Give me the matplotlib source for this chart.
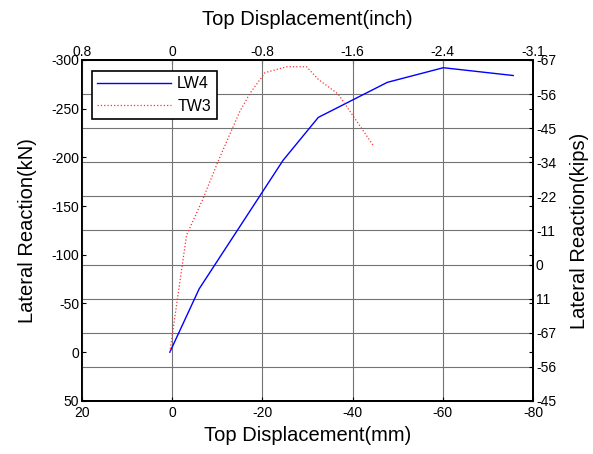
import matplotlib
matplotlib.use('Agg')
import matplotlib.pyplot as plt

plt.rcParams['font.family'] = ['Liberation Sans', 'DejaVu Sans']
plt.rcParams['axes.unicode_minus'] = False

# data (mm, kN)
lw4_disp = [0.5, -6.0, -24.6, -32.4, -47.7, -60.1, -75.6]
lw4_force = [0, -65, -197, -241, -277, -292, -284]
tw3_disp = [0.5, -3.2, -6.9, -10.2, -13.2, -15.0, -17.3, -20.6, -25.4, -29.8, -32.4, -36.8, -44.6]
tw3_force = [0, -120, -158, -196, -228, -247, -266, -287, -293, -293, -280, -265, -212]

mm_ticks = [20, 0, -20, -40, -60, -80]
inch_labels = ['0.8', '0', '-0.8', '-1.6', '-2.4', '-3.1']
kn_ticks = [-300, -250, -200, -150, -100, -50, 0, 50]
kips_labels = ['-67', '-56', '-45', '-34', '-22', '-11', '0', '11', '-67', '-56', '-45']  # top to bottom

fig = plt.figure(figsize=(5.93, 4.54), dpi=100)
ax = fig.add_axes([0.138, 0.117, 0.761, 0.751])

ax2 = ax.twinx()
ax3 = ax.twiny()
ax.set_zorder(5)
ax.patch.set_visible(False)

ax.plot(lw4_disp, lw4_force, color='blue', lw=1.0, label='LW4')
ax.plot(tw3_disp, tw3_force, color='#ff3030', lw=0.9, ls=':', label='TW3')

ax.set_xlim(20, -80)
ax.set_ylim(50, -300)
ax.set_xticks(mm_ticks)
ax.set_xticklabels([str(t) for t in mm_ticks])
ax.set_yticks(kn_ticks)
ax.set_yticklabels([str(t) for t in kn_ticks])
ax.tick_params(direction='in', length=3, width=0.8, labelsize=10, pad=2,
               right=True)
ax.tick_params(axis='x', pad=4)
ax.xaxis.grid(True, color='0.45', lw=0.8)
ax.set_xlabel('Top Displacement(mm)', fontsize=14.5, labelpad=4)
ax.set_ylabel('Lateral Reaction(kN)', fontsize=14.5, labelpad=10)

n = len(kips_labels)
ax2.set_ylim(n - 1, 0)
ax2.set_yticks(range(n))
ax2.set_yticklabels(kips_labels)
ax2.tick_params(direction='in', length=3, width=0.8, labelsize=10, pad=2)
ax2.yaxis.grid(True, color='0.45', lw=0.8)
ax2.set_ylabel('Lateral Reaction(kips)', fontsize=14.5, labelpad=10)

ax3.set_xlim(20, -80)
ax3.set_xticks(mm_ticks)
ax3.set_xticklabels(inch_labels)
ax3.tick_params(direction='in', length=3, width=0.8, labelsize=10, pad=1)
ax3.set_xlabel('Top Displacement(inch)', fontsize=14.5, labelpad=14)

for a in (ax, ax2, ax3):
    for s in a.spines.values():
        s.set_linewidth(1.2)
        s.set_color('black')

leg = ax.legend(loc='upper left', bbox_to_anchor=(0.022, 0.968), fontsize=11.5,
                handlelength=4.6, fancybox=False, framealpha=1,
                edgecolor='black', borderpad=0.35, labelspacing=0.45,
                handletextpad=0.4, borderaxespad=0)
leg.get_frame().set_linewidth(1.2)

fig.savefig('out.png', dpi=100)
